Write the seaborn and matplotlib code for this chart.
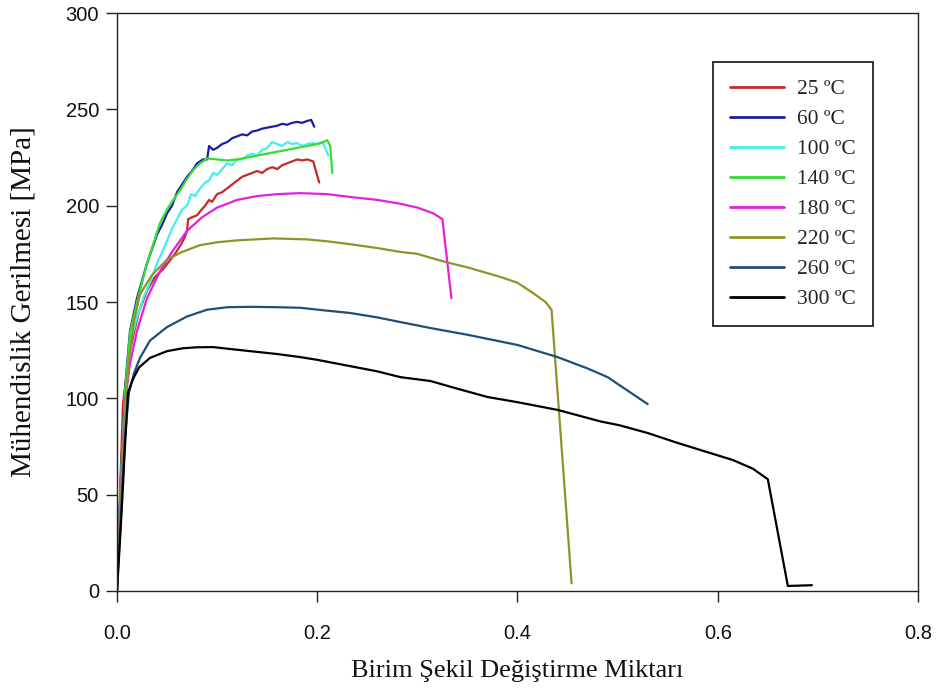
import numpy as np
import pandas as pd
import matplotlib
matplotlib.use("Agg")
import matplotlib.pyplot as plt
import seaborn as sns

# Engineering stress-strain curves at different test temperatures
labels = ["25 ºC", "60 ºC", "100 ºC", "140 ºC", "180 ºC", "220 ºC", "260 ºC", "300 ºC"]
colors = ["#c42a2a", "#1c1ca6", "#44eeee", "#33dd33", "#e022e0", "#92922a", "#1f4e78", "#000000"]

strain_25 = [0, 0.003, 0.006, 0.008, 0.012, 0.016, 0.022, 0.03, 0.038, 0.046, 0.052, 0.058,
             0.064, 0.068, 0.070, 0.071, 0.075, 0.08, 0.083, 0.088, 0.092, 0.095, 0.1, 0.105,
             0.11, 0.115, 0.12, 0.125, 0.13, 0.135, 0.14, 0.145, 0.15, 0.155, 0.16, 0.165,
             0.17, 0.175, 0.18, 0.185, 0.19, 0.196, 0.202]
stress_25 = [0, 50, 97, 105, 122, 132, 145, 156, 163, 167, 171, 175, 180, 184, 187, 193, 194,
             195, 197, 200, 203, 202, 206, 207, 209, 211, 213, 215, 216, 217, 218, 217, 219,
             220, 219, 221, 222, 223, 224, 223.5, 224, 223, 212]

strain_60 = [0, 0.004, 0.008, 0.013, 0.02, 0.03, 0.04, 0.045, 0.05, 0.055, 0.06, 0.065, 0.07,
             0.075, 0.08, 0.086, 0.09, 0.092, 0.096, 0.1, 0.105, 0.11, 0.115, 0.12, 0.125,
             0.13, 0.135, 0.14, 0.145, 0.15, 0.155, 0.16, 0.165, 0.17, 0.175, 0.18, 0.185,
             0.19, 0.194, 0.197]
stress_60 = [0, 60, 105, 135, 152, 170, 185, 190, 196, 200, 207, 211, 215, 218, 222, 224, 224,
             231, 229, 230, 232, 233, 235, 236, 237, 236.5, 238.5, 239, 240, 240.5, 241, 241.5,
             242.5, 242, 243, 243.5, 243, 244, 244.5, 241]

strain_100 = [0, 0.004, 0.008, 0.013, 0.02, 0.027, 0.033, 0.04, 0.047, 0.055, 0.06, 0.065,
              0.07, 0.074, 0.078, 0.083, 0.088, 0.092, 0.096, 0.1, 0.105, 0.11, 0.115, 0.12,
              0.125, 0.13, 0.135, 0.14, 0.145, 0.15, 0.155, 0.16, 0.165, 0.17, 0.175, 0.18,
              0.185, 0.19, 0.195, 0.2, 0.205, 0.208, 0.211]
stress_100 = [0, 55, 100, 128, 142, 153, 160, 170, 178, 188, 193, 198, 200, 206, 205, 209, 212,
              213, 217, 216, 219, 222, 221, 224, 224, 226, 227, 226, 229, 230, 233, 232, 231,
              233, 232, 232.5, 231, 232, 232.5, 232, 233, 230, 226]

strain_140 = [0, 0.004, 0.008, 0.013, 0.02, 0.03, 0.043, 0.05, 0.055, 0.063, 0.07, 0.077,
              0.083, 0.09, 0.1, 0.11, 0.12, 0.13, 0.14, 0.15, 0.16, 0.17, 0.18, 0.19, 0.2,
              0.206, 0.21, 0.213, 0.215]
stress_140 = [0, 58, 103, 134, 150, 170, 191, 198, 202, 208, 214, 219, 222, 224.5, 224, 223.5,
              224, 225, 226, 227, 228, 229, 230, 231, 232, 233, 234, 231, 217]

strain_180 = [0, 0.004, 0.008, 0.013, 0.02, 0.03, 0.043, 0.055, 0.07, 0.085, 0.1, 0.12, 0.14,
              0.16, 0.183, 0.21, 0.233, 0.26, 0.283, 0.3, 0.316, 0.325, 0.334]
stress_180 = [0, 55, 98, 118, 135, 152, 166, 176, 187, 194, 199, 203, 205, 206, 206.5, 206,
              204.5, 203, 201, 199, 196, 193, 152]

strain_220 = [0, 0.004, 0.008, 0.012, 0.017, 0.023, 0.035, 0.05, 0.065, 0.083, 0.1, 0.12,
              0.156, 0.19, 0.21, 0.233, 0.26, 0.283, 0.3, 0.313, 0.33, 0.35, 0.383, 0.4,
              0.416, 0.428, 0.434, 0.454]
stress_220 = [0, 50, 95, 120, 140, 154, 164, 172, 176, 179.5, 181, 182, 183, 182.5, 181.5, 180,
              178, 176, 175, 173, 170.5, 168, 163, 160, 154.5, 150, 146, 4]

strain_260 = [0, 0.004, 0.008, 0.012, 0.017, 0.023, 0.033, 0.05, 0.07, 0.09, 0.11, 0.133,
              0.16, 0.183, 0.21, 0.233, 0.26, 0.283, 0.313, 0.35, 0.4, 0.44, 0.47, 0.49,
              0.51, 0.53]
stress_260 = [0, 40, 80, 103, 113, 121, 130, 137, 142.5, 146, 147.3, 147.5, 147.3, 147, 145.5,
              144.3, 142, 139.6, 136.5, 133, 127.7, 121.4, 115.5, 111, 104, 97]

strain_300 = [0, 0.004, 0.008, 0.011, 0.016, 0.022, 0.033, 0.05, 0.066, 0.08, 0.096, 0.115,
              0.133, 0.16, 0.183, 0.2, 0.23, 0.26, 0.283, 0.313, 0.34, 0.37, 0.4, 0.44,
              0.483, 0.502, 0.53, 0.559, 0.59, 0.615, 0.635, 0.650, 0.670, 0.694]
stress_300 = [0, 35, 75, 103, 110, 116, 121, 124.5, 126, 126.5, 126.6, 125.5, 124.5, 123,
              121.4, 120, 117, 114, 111, 109, 105, 100.7, 98, 94, 88, 86, 82, 77, 72, 68,
              63.5, 58, 2.6, 3]

x_ticks = [0.0, 0.2, 0.4, 0.6, 0.8]
x_ticklabels = ["0.0", "0.2", "0.4", "0.6", "0.8"]
y_ticks = [0, 50, 100, 150, 200, 250, 300]

strains = [strain_25, strain_60, strain_100, strain_140, strain_180, strain_220, strain_260, strain_300]
stresses = [stress_25, stress_60, stress_100, stress_140, stress_180, stress_220, stress_260, stress_300]

frames = []
for lab, sx, sy in zip(labels, strains, stresses):
    frames.append(pd.DataFrame({"strain": sx, "stress": sy, "temp": lab}))
df = pd.concat(frames, ignore_index=True)

sns.set_theme(style="white")
plt.rcParams["font.family"] = ["Liberation Sans", "DejaVu Sans"]

fig = plt.figure(figsize=(9.38, 6.93), dpi=100)
ax = fig.add_axes([0.1247, 0.1472, 0.854, 0.834])

palette = dict(zip(labels, colors))
sns.lineplot(data=df, x="strain", y="stress", hue="temp", hue_order=labels,
             palette=palette, sort=False, estimator=None, units="temp",
             linewidth=1.6, ax=ax, legend=True)

ax.set_xlim(0, 0.8)
ax.set_ylim(0, 300)
ax.set_xticks(x_ticks)
ax.set_xticklabels(x_ticklabels)
ax.set_yticks(y_ticks)
ax.tick_params(axis="both", which="major", direction="out", length=8, width=1,
               color="#222222", labelsize=14.5, labelcolor="#111111", pad=5,
               bottom=True, left=True, top=False, right=False)
ax.tick_params(axis="x", pad=16)

for sp in ax.spines.values():
    sp.set_visible(True)
    sp.set_color("#222222")
    sp.set_linewidth(1.0)

serif = ["Liberation Serif", "DejaVu Serif"]
ax.set_xlabel("Birim Şekil Değiştirme Miktarı", fontsize=19, family=serif,
              color="#111111", labelpad=12)
ax.set_ylabel("Mühendislik Gerilmesi [MPa]", fontsize=21, family=serif,
              color="#111111")
ax.yaxis.set_label_coords(-0.100, 0.5)

handles, leg_labels = ax.get_legend_handles_labels()
leg = ax.legend(handles, leg_labels, loc="upper left", bbox_to_anchor=(0.744, 0.915),
                frameon=True, fancybox=False, edgecolor="#111111", framealpha=1,
                prop={"family": serif, "size": 15.5}, handlelength=2.5,
                labelspacing=0.46, borderpad=0.8, handletextpad=0.6, borderaxespad=0)
leg.get_frame().set_linewidth(1.2)
for line in leg.get_lines():
    line.set_linewidth(2.0)

fig.savefig("out.png", dpi=100)
